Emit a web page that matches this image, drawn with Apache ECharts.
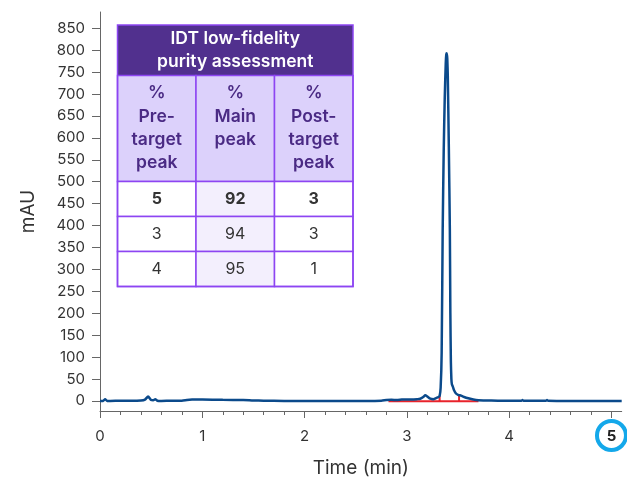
<!DOCTYPE html>
<html><head><meta charset="utf-8">
<script src="https://cdn.jsdelivr.net/npm/echarts@6/dist/echarts.min.js"></script>
<style>html,body{margin:0;padding:0;background:#fff}#c{width:627px;height:483px}</style>
</head><body><div id="c"></div>
<script>
// ---- data ----
const traceTime = [0, 0.03, 0.05, 0.07, 0.1, 0.2, 0.3, 0.4, 0.44, 0.47, 0.5, 0.52, 0.54, 0.56, 0.6, 0.7, 0.8, 0.85, 0.9, 1.0, 1.2, 1.4, 1.5, 1.6, 1.8, 2.0, 2.3, 2.6, 2.75, 2.8, 2.85, 2.9, 2.95, 3.0, 3.05, 3.1, 3.13, 3.16, 3.18, 3.2, 3.23, 3.26, 3.28, 3.3, 3.31, 3.32, 3.33, 3.34, 3.35, 3.36, 3.37, 3.38, 3.385, 3.39, 3.395, 3.40, 3.41, 3.42, 3.425, 3.43, 3.435, 3.44, 3.45, 3.46, 3.48, 3.5, 3.53, 3.56, 3.6, 3.65, 3.7, 3.8, 3.9, 4.0, 4.12, 4.13, 4.14, 4.3, 4.36, 4.37, 4.38, 4.6, 4.8, 5.0, 5.1];
const traceValue = [0, 0, 4, 0, 0, 0.5, 0.5, 1, 3, 10, 2, 1.5, 4, 0.5, 0, 0.5, 0.5, 2, 3, 3, 2.5, 2, 1, 0.5, 0, 0, 0, 0, 0.5, 2, 2.5, 2, 3, 3.5, 3, 4, 5, 9, 13, 10, 5, 4, 6, 8, 9, 11, 30, 110, 390, 570, 690, 770, 790, 793, 780, 740, 580, 390, 200, 90, 50, 38, 32, 25, 17, 14, 12, 9, 6, 3, 1.5, 1, 0.5, 0.5, 0.5, 2, 0.5, 0.5, 0.5, 2, 0.5, 0, 0, 0, 0];
const yTickValues = [0, 50, 100, 150, 200, 250, 300, 350, 400, 450, 500, 550, 600, 650, 700, 750, 800, 850];
const xTickValues = [0, 1, 2, 3, 4, 5];
const xMinorTickValues = [0.2, 0.4, 0.6, 0.8, 1.2, 1.4, 1.6, 1.8, 2.2, 2.4, 2.6, 2.8, 3.2, 3.4, 3.6, 3.8, 4.2, 4.4, 4.6, 4.8];
const highlightedTick = 5;
const integrationTimes = [2.82, 3.70];
const integrationLevel = -1;
const dropTimes = [3.32, 3.51];
const dropTops = [11, 13];
const tableTitle = 'IDT low-fidelity\npurity assessment';
const tableHeaders = ['%\nPre-\ntarget\npeak', '%\nMain\npeak', '%\nPost-\ntarget\npeak'];
const preTarget = [5, 3, 4];
const mainPeak = [92, 94, 95];
const postTarget = [3, 3, 1];

const X_MIN = 0, X_MAX = 5.1, Y_MIN = -23, Y_MAX = 887;
const FONT = 'Inter, "Noto Sans", sans-serif';

const chart = echarts.init(document.getElementById('c'), null, {renderer: 'canvas'});

const series = [
  {
    type: 'line', name: 'trace', data: traceTime.map((t, i) => [t, traceValue[i]]),
    showSymbol: false, symbol: 'none', smooth: 0.2, z: 4,
    lineStyle: {color: '#0b4a8b', width: 2.5}, xAxisIndex: 0, yAxisIndex: 0, silent: true
  },
  {
    type: 'line', data: integrationTimes.map(t => [t, integrationLevel]),
    showSymbol: false, symbol: 'none', z: 3,
    lineStyle: {color: '#e8232b', width: 2}, silent: true
  }
];
dropTimes.forEach((t, i) => {
  series.push({
    type: 'line', data: [[t, integrationLevel], [t, dropTops[i]]],
    showSymbol: false, symbol: 'none', z: 3,
    lineStyle: {color: '#e8232b', width: 2}, silent: true
  });
});

const option = {
  backgroundColor: '#fff',
  animation: false,
  grid: {left: 100, right: 5.3, top: 12, bottom: 71.3, containLabel: false},
  xAxis: [
    {
      type: 'value', min: X_MIN, max: X_MAX,
      name: 'Time (min)', nameLocation: 'middle', nameGap: 48,
      nameTextStyle: {fontSize: 19, color: '#333', fontFamily: FONT},
      axisLine: {show: true, onZero: false, lineStyle: {color: '#666', width: 1}},
      axisTick: {show: true, length: 7, customValues: xTickValues, lineStyle: {color: '#666'}},
      axisLabel: {
        customValues: xTickValues, margin: 18, fontSize: 15, color: '#333', fontFamily: FONT,
        formatter: v => (v === highlightedTick ? '{b|' + v + '}' : String(v)),
        rich: {b: {fontWeight: 'bold', fontSize: 15, color: '#222', fontFamily: FONT}}
      },
      splitLine: {show: false}
    },
    {
      type: 'value', min: X_MIN, max: X_MAX, position: 'bottom',
      axisLine: {show: false, onZero: false},
      axisTick: {show: true, length: 4, customValues: xMinorTickValues, lineStyle: {color: '#666'}},
      axisLabel: {show: false},
      splitLine: {show: false}
    }
  ],
  yAxis: {
    type: 'value', min: Y_MIN, max: Y_MAX,
    name: 'mAU', nameLocation: 'middle', nameGap: 62, nameRotate: 90,
    nameTextStyle: {fontSize: 19, color: '#333', fontFamily: FONT},
    axisLine: {show: true, onZero: false, lineStyle: {color: '#666', width: 1}},
    axisTick: {show: true, length: 8, customValues: yTickValues, lineStyle: {color: '#666'}},
    axisLabel: {customValues: yTickValues, margin: 15, fontSize: 15, color: '#333', fontFamily: FONT},
    splitLine: {show: false}
  },
  series: series
};
chart.setOption(option);

// ---- table + highlight circle ----
const TX = 117.5, TY = 25, CW = 78.5, TITLE_H = 50.5, HEAD_H = 106, ROW_H = 35;
const BORDER = '#8d45f2';
const g = [];
g.push({type: 'rect', shape: {x: TX, y: TY, width: CW * 3, height: TITLE_H}, style: {fill: '#51308e'}, z: 10});
g.push({type: 'text', style: {text: tableTitle, x: TX + CW * 1.5, y: TY + TITLE_H / 2, align: 'center', verticalAlign: 'middle', fill: '#fff', font: '600 17.5px ' + FONT, lineHeight: 22.5}, z: 12});
const headY = TY + TITLE_H;
tableHeaders.forEach((h, c) => {
  g.push({type: 'rect', shape: {x: TX + CW * c, y: headY, width: CW, height: HEAD_H}, style: {fill: '#dcd1fb', stroke: BORDER, lineWidth: 1.5}, z: 10});
  g.push({type: 'text', style: {text: h, x: TX + CW * c + CW / 2, y: headY + 6, align: 'center', verticalAlign: 'top', fill: '#4a2a84', font: '600 17.5px ' + FONT, lineHeight: 23.3}, z: 12});
});
const cols = [preTarget, mainPeak, postTarget];
const rowsY = headY + HEAD_H;
for (let r = 0; r < preTarget.length; r++) {
  cols.forEach((arr, c) => {
    g.push({type: 'rect', shape: {x: TX + CW * c, y: rowsY + ROW_H * r, width: CW, height: ROW_H}, style: {fill: c === 1 ? '#f3effd' : '#fff', stroke: BORDER, lineWidth: 1.5}, z: 10});
    g.push({type: 'text', style: {text: String(arr[r]), x: TX + CW * c + CW / 2, y: rowsY + ROW_H * r + ROW_H / 2, align: 'center', verticalAlign: 'middle', fill: '#333', font: (r === 0 ? 'bold ' : '') + '16px ' + FONT}, z: 12});
  });
}
g.push({type: 'rect', shape: {x: TX, y: TY, width: CW * 3, height: TITLE_H + HEAD_H + ROW_H * 3}, style: {fill: 'none', stroke: BORDER, lineWidth: 1.5}, z: 13});

const p = chart.convertToPixel({xAxisIndex: 0, yAxisIndex: 0}, [highlightedTick, Y_MIN]);
g.push({type: 'circle', shape: {cx: p[0], cy: p[1] + 24.5, r: 14.5}, style: {fill: 'none', stroke: '#14a8ea', lineWidth: 4}, z: 20});
chart.setOption({graphic: g});
</script>
</body></html>
